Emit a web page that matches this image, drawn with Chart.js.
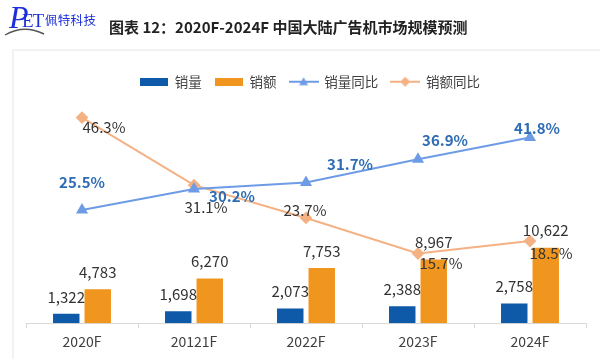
<!DOCTYPE html>
<html>
<head>
<meta charset="utf-8">
<script src="https://cdn.jsdelivr.net/npm/chart.js@4.4.1/dist/chart.umd.min.js"></script>
<style>
html,body{margin:0;padding:0;background:#fff;width:600px;height:359px;overflow:hidden;font-family:"Noto Sans CJK SC",sans-serif;}
#wrap{position:relative;width:600px;height:359px;}
#panel{position:absolute;left:12px;top:49px;right:0;bottom:0;border-left:2px solid #f2f2f2;border-top:2px solid #f2f2f2;}
#chart{position:absolute;left:0;top:0;}
#title{position:absolute;left:109px;top:18px;font-size:15px;font-weight:bold;color:#222;line-height:18px;white-space:nowrap;}
#logoP{position:absolute;left:9px;top:1px;font-family:"Liberation Serif",serif;font-style:italic;font-size:32px;line-height:32px;color:#1c2fd8;}
#logoET{position:absolute;left:22px;top:11px;font-family:"Liberation Serif",serif;font-size:19px;line-height:19px;color:#1c2fd8;letter-spacing:-1px;}
#logoCN{position:absolute;left:45px;top:13px;font-size:12.5px;line-height:14px;color:#1c2fd8;letter-spacing:0.3px;white-space:nowrap;}
#arc{position:absolute;left:0;top:0;}
</style>
</head>
<body>
<div id="wrap">
  <div id="panel"></div>
  <canvas id="chart" width="600" height="359"></canvas>
  <svg id="arc" width="60" height="45"><path d="M5 35 Q24 24 44 34" stroke="#555" stroke-width="1.4" fill="none"/></svg>
  <div id="logoP">P</div>
  <div id="logoET">ET</div>
  <div id="logoCN">佩特科技</div>
  <div id="title">图表 12：2020F-2024F 中国大陆广告机市场规模预测</div>
</div>
<script>
// ---- data ----
const categories = ['2020F', '20121F', '2022F', '2023F', '2024F'];
const salesVolume = [1322, 1698, 2073, 2388, 2758];
const salesValue = [4783, 6270, 7753, 8967, 10622];
const volumeYoY = [25.5, 30.2, 31.7, 36.9, 41.8];
const valueYoY = [46.3, 31.1, 23.7, 15.7, 18.5];
const seriesNames = ['销量', '销额', '销量同比', '销额同比'];

// ---- styles ----
const FONT = '"Noto Sans CJK SC", sans-serif';
const C_BLUE = '#0e59a8';
const C_ORANGE = '#f0961f';
const C_LBLUE = '#6e9be6';
const C_LORANGE = '#f4b183';

function barIcon(color) {
  const c = document.createElement('canvas');
  c.width = 28; c.height = 8;
  const g = c.getContext('2d');
  g.fillStyle = color; g.fillRect(0, 0, 28, 8);
  return c;
}
function lineIcon(color, marker) {
  const c = document.createElement('canvas');
  c.width = 30; c.height = 12;
  const g = c.getContext('2d');
  g.strokeStyle = color; g.lineWidth = 2;
  g.beginPath(); g.moveTo(0, 6); g.lineTo(30, 6); g.stroke();
  g.fillStyle = color;
  g.beginPath();
  if (marker === 'triangle') {
    g.moveTo(15, 1.5); g.lineTo(19.5, 9.5); g.lineTo(10.5, 9.5);
  } else {
    g.moveTo(15, 1); g.lineTo(20, 6); g.lineTo(15, 11); g.lineTo(10, 6);
  }
  g.closePath(); g.fill();
  return c;
}
const legendIcons = [barIcon(C_BLUE), barIcon(C_ORANGE), lineIcon(C_LBLUE, 'triangle'), lineIcon(C_LORANGE, 'diamond')];

const fmtNum = v => v.toLocaleString('en-US');
const fmtPct = v => v.toFixed(1) + '%';

const labelPlugin = {
  id: 'valueLabels',
  afterLayout(chart, args, opts) {
    if (chart.legend) { chart.legend.left += opts.legendShift; chart.legend.right += opts.legendShift; }
  },
  afterDatasetsDraw(chart, args, opts) {
    const ctx = chart.ctx;
    chart.data.datasets.forEach((ds, i) => {
      const cfg = opts.series[i];
      const meta = chart.getDatasetMeta(i);
      ctx.save();
      ctx.font = cfg.font;
      ctx.fillStyle = cfg.color;
      ctx.textAlign = 'center';
      ctx.textBaseline = 'middle';
      meta.data.forEach((el, j) => {
        const off = cfg.offsets ? cfg.offsets[j] : [0, cfg.dy];
        ctx.fillText(cfg.format(ds.data[j]), el.x + off[0], el.y + off[1]);
      });
      ctx.restore();
    });
  }
};

new Chart(document.getElementById('chart'), {
  data: {
    labels: categories,
    datasets: [
      { type: 'bar', label: seriesNames[0], data: salesVolume, backgroundColor: C_BLUE, yAxisID: 'y', order: 2,
        categoryPercentage: 0.5625, barPercentage: 0.84 },
      { type: 'bar', label: seriesNames[1], data: salesValue, backgroundColor: C_ORANGE, yAxisID: 'y', order: 2,
        categoryPercentage: 0.5625, barPercentage: 0.84 },
      { type: 'line', label: seriesNames[2], data: volumeYoY, borderColor: C_LBLUE, backgroundColor: C_LBLUE,
        borderWidth: 2, pointStyle: 'triangle', pointRadius: 5, yAxisID: 'y1', order: 1, tension: 0 },
      { type: 'line', label: seriesNames[3], data: valueYoY, borderColor: C_LORANGE, backgroundColor: C_LORANGE,
        borderWidth: 2, pointStyle: 'rectRot', pointRadius: 5, yAxisID: 'y1', order: 1, tension: 0 }
    ]
  },
  options: {
    responsive: false,
    animation: false,
    devicePixelRatio: 1,
    layout: { padding: { top: 62, left: 26, right: 14, bottom: 4 } },
    scales: {
      x: {
        offset: true,
        grid: { display: true, drawOnChartArea: false, drawTicks: true, tickLength: 5, color: '#d9d9d9', offset: true },
        border: { display: true, color: '#d9d9d9', width: 1 },
        ticks: { color: '#404040', font: { size: 14, family: FONT }, padding: 5 }
      },
      y: { display: false, min: 0, max: 31600 },
      y1: { display: false, min: 0, max: 50.6 }
    },
    plugins: {
      tooltip: { enabled: false },
      legend: {
        position: 'top',
        labels: {
          usePointStyle: true,
          pointStyleWidth: 28,
          padding: 13,
          color: '#404040',
          font: { size: 13.5, family: FONT },
          generateLabels: (chart) => chart.data.datasets.map((ds, i) => ({
            text: ds.label, pointStyle: legendIcons[i], fontColor: '#404040',
            hidden: false, datasetIndex: i, lineWidth: 0, strokeStyle: 'transparent', fillStyle: 'transparent'
          }))
        }
      },
      valueLabels: {
        legendShift: 4,
        series: [
          { font: '15px ' + FONT, color: '#333', dy: -17, format: fmtNum },
          { font: '15px ' + FONT, color: '#333', dy: -17, format: fmtNum },
          { font: 'bold 15px ' + FONT, color: '#2e6db5', format: fmtPct,
            offsets: [[0, -28], [38, 7], [44, -18], [27, -19], [7, -9]] },
          { font: '15px ' + FONT, color: '#333', format: fmtPct,
            offsets: [[22, 10], [12, 22], [-1, -8], [23, 10], [21, 12]] }
        ]
      }
    }
  },
  plugins: [labelPlugin]
});
</script>
</body>
</html>
